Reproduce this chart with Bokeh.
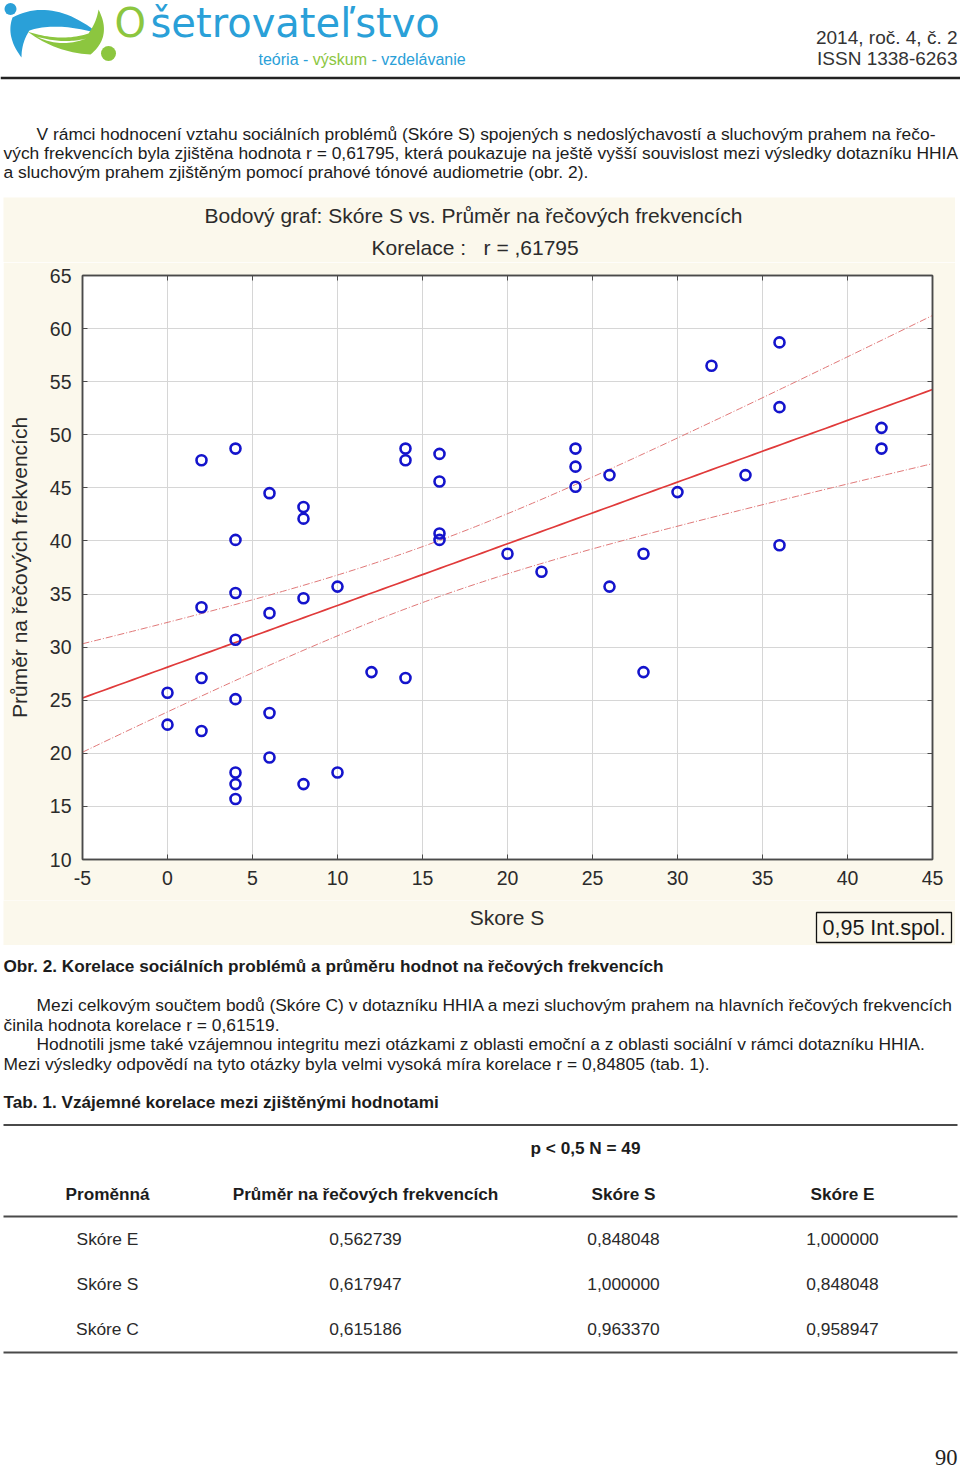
import numpy as np
from bokeh.plotting import figure
from bokeh.models import Range1d, LinearAxis, Spacer, FixedTicker
from bokeh.layouts import column, row
from bokeh.embed import file_html
from bokeh.resources import INLINE
from bokeh.core.properties import value

# ---------------- data ----------------
skore_s = [0, 0,
           2, 2, 2, 2,
           4, 4, 4, 4, 4, 4, 4, 4,
           6, 6, 6, 6,
           8, 8, 8, 8,
           10, 10,
           12,
           14, 14, 14,
           16, 16, 16, 16,
           20,
           22,
           24, 24, 24,
           26, 26,
           28, 28,
           30,
           32,
           34,
           36, 36, 36,
           42, 42]
prumer = [25.7, 22.7,
          47.6, 33.75, 27.1, 22.1,
          48.7, 40.1, 35.1, 30.7, 25.1, 18.2, 17.1, 15.7,
          44.5, 33.2, 23.8, 19.6,
          43.2, 42.1, 34.6, 17.1,
          35.7, 18.2,
          27.65,
          48.7, 47.6, 27.1,
          48.2, 45.6, 40.7, 40.1,
          38.8,
          37.1,
          48.7, 47.0, 45.1,
          46.2, 35.7,
          38.8, 27.65,
          44.6,
          56.5,
          46.2,
          58.7, 52.6, 39.6,
          50.65, 48.7]
x_ticks = [-5, 0, 5, 10, 15, 20, 25, 30, 35, 40, 45]
y_ticks = [10, 15, 20, 25, 30, 35, 40, 45, 50, 55, 60, 65]

chart_title = "Bodový graf: Skóre S vs. Průměr na řečových frekvencích"
chart_subtitle = "Korelace :   r = ,61795"
x_label = "Skore S"
y_label = "Průměr na řečových frekvencích"
legend_text = "0,95 Int.spol."

table_cols = ["Proměnná", "Průměr na řečových frekvencích", "Skóre S", "Skóre E"]
table_rows = ["Skóre E", "Skóre S", "Skóre C"]
table_prumer = ["0,562739", "0,617947", "0,615186"]
table_skore_s = ["0,848048", "1,000000", "0,963370"]
table_skore_e = ["1,000000", "0,848048", "0,958947"]

para1 = ["V rámci hodnocení vztahu sociálních problémů (Skóre S) spojených s nedoslýchavostí a sluchovým prahem na řečo-",
         "vých frekvencích byla zjištěna hodnota r = 0,61795, která poukazuje na ještě vyšší souvislost mezi výsledky dotazníku HHIA",
         "a sluchovým prahem zjištěným pomocí prahové tónové audiometrie (obr. 2)."]
caption = "Obr. 2. Korelace sociálních problémů a průměru hodnot na řečových frekvencích"
para2 = ["Mezi celkovým součtem bodů (Skóre C) v dotazníku HHIA a mezi sluchovým prahem na hlavních řečových frekvencích",
         "činila hodnota korelace r = 0,61519.",
         "Hodnotili jsme také vzájemnou integritu mezi otázkami z oblasti emoční a z oblasti sociální v rámci dotazníku HHIA.",
         "Mezi výsledky odpovědí na tyto otázky byla velmi vysoká míra korelace r = 0,84805 (tab. 1)."]
tab_title = "Tab. 1. Vzájemné korelace mezi zjištěnými hodnotami"
tab_note = "p < 0,5 N = 49"

SANS = "Liberation Sans"
BLUE = "#2aa0d8"
GREEN = "#8cc63f"
INK = "#1c1c1c"
CREAM = "#fbf8ec"
AX = "#4a4a4a"
CHART_INK = "#2b2b2b"


def no_align(f):
    try:
        f.frame_align = False
    except Exception:
        pass


def T(fig, x, y, text, size, color=INK, font=SANS, align="left", style="normal"):
    fig.text(x=[x], y=[y], text=[text], text_font=value(font), text_font_size=value(f"{size}px"),
             text_color=color, text_align=align, text_baseline="middle", text_font_style=style)


def plain(x0, w, y0, y1, fill="white"):
    f = figure(width=w, height=int(round(y1 - y0)), x_range=Range1d(x0, x0 + w), y_range=Range1d(y1, y0),
               x_axis_type=None, y_axis_type=None, output_backend="svg", toolbar_location=None,
               min_border=0, outline_line_color=None, background_fill_color=fill,
               border_fill_color=fill)
    f.grid.visible = False
    no_align(f)
    return f


def bez(p0, p1, p2, n=24):
    t = np.linspace(0, 1, n)
    xs = (1 - t) ** 2 * p0[0] + 2 * (1 - t) * t * p1[0] + t ** 2 * p2[0]
    ys = (1 - t) ** 2 * p0[1] + 2 * (1 - t) * t * p1[1] + t ** 2 * p2[1]
    return list(xs), list(ys)


def shape(*segs):
    xs, ys = [], []
    for s in segs:
        a, b = bez(*s)
        xs += a
        ys += b
    return xs, ys


AW = {' ': 278, '-': 333, 't': 278, 'e': 556, 'ó': 556, 'r': 333, 'i': 222, 'a': 556, 'v': 500,
      'ý': 500, 's': 500, 'k': 500, 'u': 556, 'm': 833, 'z': 500, 'd': 556, 'l': 222, 'á': 556, 'n': 556}


def tw(s, size):
    return sum(AW.get(c, 556) for c in s) / 1000.0 * size

# ---------------- top part (page y 0..197) ----------------
top = plain(0, 960, 0, 197)

bx, by = shape(((21, 57), (5, 36), (12, 17)), ((12, 17), (52, -4), (98, 33)),
               ((98, 33), (56, 21), (29, 30)), ((29, 30), (21, 42), (21, 57)))
top.patch(bx, by, color=BLUE, line_color=None)
gx, gy = shape(((27, 31), (60, 42), (88, 33)), ((88, 33), (96, 22), (98, 9)),
               ((98, 9), (112, 36), (90, 54)), ((90, 54), (55, 52), (27, 31)))
top.patch(gx, gy, color=GREEN, line_color=None)
wx, wy = shape(((36, 36), (62, 44), (86, 38)), ((86, 38), (60, 48), (36, 36)))
top.patch(wx, wy, color="white", line_color=None)
top.scatter(x=[10], y=[8.5], size=12, color=BLUE, line_color=None)
top.scatter(x=[108], y=[53], size=15, color=GREEN, line_color=None)

T(top, 114, 22.5, "O", 40, color=GREEN, font="DejaVu Sans")
T(top, 150, 22.5, "šetrovateľstvo", 40, color=BLUE, font="DejaVu Sans")
sx0 = 258
T(top, sx0, 58.5, "teória -", 16, color=BLUE)
T(top, sx0 + tw("teória - ", 16), 58.5, "výskum", 16, color=GREEN)
T(top, sx0 + tw("teória - výskum ", 16), 58.5, "- vzdelávanie", 16, color=BLUE)

T(top, 957, 37, "2014, roč. 4, č. 2", 19, color="#333333", align="right")
T(top, 957, 57.5, "ISSN 1338-6263", 19, color="#333333", align="right")
top.line(x=[0, 960], y=[77.6, 77.6], line_color="#222222", line_width=2.5)

for (lx, ly), txt in zip([(36, 133), (3, 152.3), (3, 171.6)], para1):
    T(top, lx, ly, txt, 17.4)

# ---------------- chart block (page x 3..955, y 197..945) ----------------
head = plain(3, 952, 197, 262, fill=CREAM)
T(head, 204, 214.5, chart_title, 21, color=CHART_INK)
T(head, 371, 246.5, chart_subtitle.replace("   ", "\u00a0\u00a0 "), 21, color=CHART_INK)

p = figure(width=952, height=638, x_range=Range1d(-5, 45), y_range=Range1d(10, 65),
           output_backend="svg", toolbar_location=None,
           min_border_left=79, min_border_right=23, min_border_top=13, min_border_bottom=41,
           background_fill_color="white", border_fill_color=CREAM,
           outline_line_color=AX, outline_line_width=1.5)
no_align(p)

for ax in (p.xaxis[0], p.yaxis[0]):
    ax.major_tick_in = 5
    ax.major_tick_out = 0
    ax.minor_tick_line_color = None
    ax.axis_line_color = AX
    ax.axis_line_width = 1.5
    ax.major_tick_line_color = AX
    ax.major_label_text_font = SANS
    ax.major_label_text_font_size = "19.5px"
    ax.major_label_text_color = CHART_INK
    ax.axis_label_text_font = SANS
    ax.axis_label_text_font_size = "21px"
    ax.axis_label_text_font_style = "normal"
    ax.axis_label_text_color = CHART_INK
p.xaxis[0].ticker = FixedTicker(ticks=x_ticks)
p.yaxis[0].ticker = FixedTicker(ticks=y_ticks)
p.xaxis[0].major_label_overrides = {-5: "-5"}
p.yaxis[0].axis_label = y_label
p.xaxis[0].major_label_standoff = 11
p.yaxis[0].major_label_standoff = 11
p.yaxis[0].axis_label_standoff = 16

p.add_layout(LinearAxis(ticker=FixedTicker(ticks=x_ticks), major_label_text_font_size="0px",
                        major_tick_in=5, major_tick_out=0, minor_tick_line_color=None,
                        axis_line_color=AX, axis_line_width=1.5, major_tick_line_color=AX,
                        major_label_standoff=0), "above")
p.add_layout(LinearAxis(ticker=FixedTicker(ticks=y_ticks), major_label_text_font_size="0px",
                        major_tick_in=5, major_tick_out=0, minor_tick_line_color=None,
                        axis_line_color=AX, axis_line_width=1.5, major_tick_line_color=AX,
                        major_label_standoff=0), "right")

p.xgrid.ticker = FixedTicker(ticks=x_ticks)
p.ygrid.ticker = FixedTicker(ticks=y_ticks)
p.grid.grid_line_color = "#d6d6d6"
p.grid.grid_line_width = 1

# regression with 95% confidence band, computed from the points
xa = np.array(skore_s, dtype=float)
ya = np.array(prumer, dtype=float)
n = len(xa)
b1, b0 = np.polyfit(xa, ya, 1)
res = ya - (b0 + b1 * xa)
s_err = np.sqrt(np.sum(res ** 2) / (n - 2))
sxx = np.sum((xa - xa.mean()) ** 2)
xf = np.linspace(-5, 45, 120)
yf = b0 + b1 * xf
half = 2.0117 * s_err * np.sqrt(1.0 / n + (xf - xa.mean()) ** 2 / sxx)
p.line(xf, yf + half, line_color="#e07878", line_width=1, line_dash="7 2 1 2")
p.line(xf, yf - half, line_color="#e07878", line_width=1, line_dash="7 2 1 2")
p.line(xf, yf, line_color="#e03a3a", line_width=1.7)

p.scatter(skore_s, prumer, marker="circle", size=10, fill_color=None,
          line_color="#1414cc", line_width=2.6)

foot = plain(3, 952, 900, 945, fill=CREAM)
T(foot, 506.5, 917, x_label, 21, color=CHART_INK, align="center")
foot.quad(left=[816], right=[951], top=[912], bottom=[942], fill_color=None,
          line_color="#111111", line_width=1.3)
T(foot, 822, 927.5, legend_text, 21.5, color="#1a1a1a")

chart_block = row(Spacer(width=3, height=748), column(head, p, foot, spacing=0), spacing=0)

# ---------------- bottom part (page y 945..1470) ----------------
bot = plain(0, 960, 945, 1470)
T(bot, 3, 965.5, caption, 17.2, style="bold")
for (lx, ly), txt in zip([(36, 1004.5), (3, 1024), (36, 1043.5), (3, 1063)], para2):
    T(bot, lx, ly, txt, 17.4)
T(bot, 3, 1101.5, tab_title, 17.2, style="bold")
for yl in (1124.5, 1216, 1352):
    bot.line(x=[3, 957], y=[yl, yl], line_color="#4a4a4a", line_width=2)
T(bot, 585, 1147.5, tab_note, 17.2, style="bold", align="center")
col_x = [107, 365, 623, 842]
for cx, name in zip(col_x, table_cols):
    T(bot, cx, 1193, name, 17.2, style="bold", align="center")
for i, ry in enumerate([1238.8, 1283.8, 1328.8]):
    T(bot, col_x[0], ry, table_rows[i], 17.4, align="center", color="#2a2a2a")
    T(bot, col_x[1], ry, table_prumer[i], 17.4, align="center", color="#2a2a2a")
    T(bot, col_x[2], ry, table_skore_s[i], 17.4, align="center", color="#2a2a2a")
    T(bot, col_x[3], ry, table_skore_e[i], 17.4, align="center", color="#2a2a2a")
T(bot, 957, 1457, "90", 22.5, font="Liberation Serif", align="right", color="#222222")

page = column(top, chart_block, bot, spacing=0)
open("out.html", "w").write(file_html(page, INLINE))
